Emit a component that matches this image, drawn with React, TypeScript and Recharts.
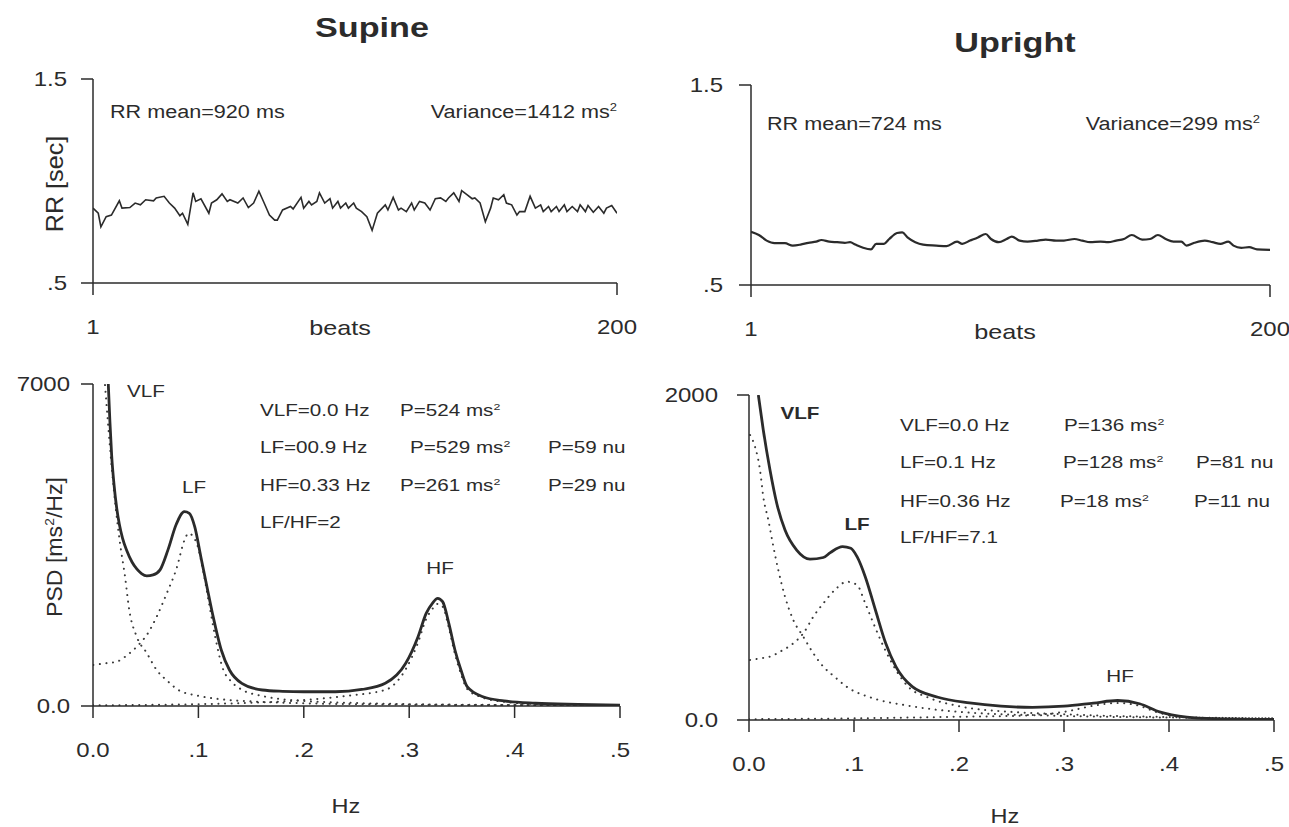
import React from 'react';
import { LineChart, Line, XAxis, YAxis } from 'recharts';

type Pt = [number, number];

// ---- tick values ----
const beatTicks = [1, 200];
const rrTicks = [0.5, 1.5];
const hzTicks = [0, 0.1, 0.2, 0.3, 0.4, 0.5];
const supinePsdTicks = [0, 7000];
const uprightPsdTicks = [0, 2000];

// ---- RR tachograms: [beat, RR sec] ----
const supineRR: Pt[] = [
  [1, 0.867], [3, 0.842], [4, 0.775], [6, 0.825], [8, 0.833], [11, 0.903], [12, 0.867], [15, 0.87], [17, 0.892], [19, 0.883],
  [21, 0.908], [24, 0.903], [25, 0.917], [28, 0.925], [30, 0.892], [32, 0.867], [34, 0.83], [35, 0.842], [37, 0.787], [39, 0.942],
  [40, 0.9], [42, 0.913], [45, 0.842], [46, 0.892], [48, 0.908], [50, 0.937], [52, 0.9], [53, 0.908], [56, 0.892], [58, 0.917],
  [60, 0.87], [62, 0.892], [64, 0.95], [66, 0.892], [68, 0.833], [70, 0.808], [71, 0.808], [73, 0.858], [76, 0.875], [77, 0.863],
  [80, 0.92], [81, 0.867], [83, 0.9], [84, 0.883], [86, 0.9], [87, 0.942], [89, 0.892], [91, 0.913], [92, 0.867], [94, 0.9],
  [95, 0.867], [97, 0.892], [98, 0.867], [100, 0.892], [101, 0.867], [103, 0.85], [105, 0.825], [107, 0.758], [109, 0.842], [112, 0.883],
  [113, 0.858], [115, 0.92], [117, 0.858], [118, 0.867], [120, 0.85], [122, 0.892], [123, 0.858], [125, 0.9], [127, 0.892], [129, 0.858],
  [131, 0.913], [133, 0.917], [135, 0.9], [136, 0.917], [138, 0.942], [140, 0.9], [141, 0.953], [143, 0.933], [145, 0.913], [146, 0.917],
  [148, 0.892], [150, 0.8], [152, 0.867], [153, 0.917], [155, 0.908], [157, 0.933], [158, 0.892], [160, 0.883], [162, 0.833], [163, 0.85],
  [165, 0.85], [167, 0.925], [169, 0.867], [171, 0.883], [172, 0.85], [174, 0.875], [175, 0.85], [177, 0.875], [178, 0.85], [180, 0.883],
  [181, 0.85], [183, 0.875], [185, 0.85], [186, 0.883], [188, 0.85], [189, 0.88], [191, 0.847], [193, 0.875], [195, 0.842], [196, 0.867],
  [198, 0.88], [200, 0.842],
];

const uprightRR: Pt[] = [
  [1, 0.766], [4, 0.75], [7, 0.722], [10, 0.709], [14, 0.709], [17, 0.697], [20, 0.702], [23, 0.711], [26, 0.717], [28, 0.725],
  [31, 0.717], [34, 0.714], [37, 0.711], [39, 0.714], [41, 0.702], [44, 0.686], [47, 0.678], [49, 0.706], [52, 0.706], [54, 0.73],
  [57, 0.76], [59, 0.763], [61, 0.738], [64, 0.714], [67, 0.702], [72, 0.697], [76, 0.694], [80, 0.717], [82, 0.706], [85, 0.722],
  [88, 0.738], [91, 0.755], [93, 0.73], [96, 0.714], [99, 0.73], [101, 0.742], [104, 0.722], [107, 0.717], [111, 0.722], [114, 0.727],
  [118, 0.722], [121, 0.722], [125, 0.73], [128, 0.722], [131, 0.714], [135, 0.717], [138, 0.714], [141, 0.722], [144, 0.73], [147, 0.75],
  [151, 0.727], [154, 0.73], [157, 0.75], [160, 0.73], [163, 0.717], [166, 0.717], [168, 0.697], [171, 0.711], [175, 0.722], [178, 0.714],
  [181, 0.706], [184, 0.717], [186, 0.697], [189, 0.686], [192, 0.689], [195, 0.678], [200, 0.676],
];

// ---- Supine spectrum: [Hz, ms^2/Hz] ----
const supineTotal: Pt[] = [
  [0.0145, 7000], [0.016, 6200], [0.0177, 5450], [0.02, 4800], [0.0225, 4300], [0.025, 3950], [0.028, 3650], [0.032, 3380],
  [0.037, 3130], [0.0415, 2980], [0.046, 2880], [0.051, 2830], [0.057, 2850], [0.0636, 2960], [0.0712, 3400], [0.079, 3950],
  [0.0867, 4225], [0.0914, 4189], [0.0965, 3899], [0.1023, 3246], [0.1081, 2594], [0.114, 1942], [0.1217, 1217], [0.1295, 783],
  [0.1412, 493], [0.1606, 348], [0.18, 320], [0.2, 310], [0.23, 310], [0.255, 360], [0.2773, 493], [0.2967, 928], [0.3084, 1507],
  [0.3161, 2015], [0.322, 2233], [0.327, 2341], [0.3317, 2268], [0.3376, 1797], [0.3434, 1217], [0.3491, 783], [0.355, 420],
  [0.37, 200], [0.39, 110], [0.42, 60], [0.46, 35], [0.5, 20],
];
const supineVLF: Pt[] = [
  [0.0114, 6978], [0.0145, 6072], [0.0177, 5202], [0.0218, 4261], [0.0256, 3544], [0.0304, 2811], [0.0344, 2087], [0.0415, 1507],
  [0.051, 1152], [0.0604, 783], [0.0714, 528], [0.081, 348], [0.1, 220], [0.12, 150], [0.15, 100], [0.2, 60], [0.3, 30], [0.4, 20], [0.5, 15],
];
const supineLF: Pt[] = [
  [0.0003, 891], [0.0114, 928], [0.0225, 963], [0.0326, 1109], [0.0446, 1363], [0.051, 1543], [0.0604, 1941], [0.07, 2450],
  [0.0794, 3000], [0.0867, 3600], [0.0906, 3754], [0.0984, 3536], [0.1043, 2957], [0.1101, 2232], [0.1159, 1507], [0.1237, 783],
  [0.13, 560], [0.14, 370], [0.16, 220], [0.2, 110], [0.25, 65], [0.3, 40], [0.4, 22], [0.5, 15],
];
const supineHF: Pt[] = [
  [0, 15], [0.1, 40], [0.15, 70], [0.2, 130], [0.24, 220], [0.2773, 350], [0.2967, 800], [0.3084, 1380], [0.3161, 1890], [0.322, 2110],
  [0.327, 2220], [0.3317, 2160], [0.3376, 1700], [0.3434, 1130], [0.3491, 700], [0.355, 370], [0.37, 180], [0.39, 90], [0.42, 45],
  [0.46, 25], [0.5, 15],
];

// ---- Upright spectrum: [Hz, ms^2/Hz] ----
const uprightTotal: Pt[] = [
  [0.0089, 2000], [0.0136, 1785], [0.02, 1538], [0.0264, 1334], [0.0343, 1169], [0.0454, 1046], [0.0581, 990], [0.0708, 1000],
  [0.0774, 1030], [0.0891, 1067], [0.097, 1057], [0.1029, 1005], [0.1107, 882], [0.1204, 677], [0.1302, 472], [0.1399, 328],
  [0.1555, 205], [0.18, 140], [0.21, 105], [0.24, 85], [0.27, 78], [0.3, 85], [0.328, 104], [0.351, 120], [0.372, 100], [0.391, 50],
  [0.417, 18], [0.445, 8], [0.5, 3],
];
const uprightVLF: Pt[] = [
  [0.001, 1754], [0.0057, 1682], [0.0105, 1538], [0.0136, 1374], [0.0184, 1231], [0.0232, 1067], [0.0279, 923], [0.0343, 759],
  [0.0422, 615], [0.0517, 513], [0.0613, 410], [0.0708, 328], [0.0813, 267], [0.093, 205], [0.12, 130], [0.15, 90], [0.2, 50],
  [0.3, 25], [0.4, 15], [0.5, 10],
];
const uprightLF: Pt[] = [
  [0.001, 369], [0.0105, 379], [0.02, 390], [0.0295, 420], [0.0422, 472], [0.0517, 533], [0.0613, 636], [0.0708, 718], [0.0833, 810],
  [0.093, 851], [0.1029, 831], [0.1107, 718], [0.1185, 595], [0.1282, 451], [0.1399, 308], [0.1516, 205], [0.17, 140], [0.2, 85],
  [0.25, 50], [0.3, 35], [0.4, 18], [0.5, 10],
];
const uprightHF: Pt[] = [
  [0, 5], [0.1, 10], [0.2, 20], [0.25, 25], [0.3, 50], [0.33, 90], [0.35, 105], [0.37, 90], [0.39, 45], [0.42, 15], [0.45, 6], [0.5, 2],
];

const INK = '#2b2b2b';
const FONT = '"Liberation Sans", Arial, Helvetica, sans-serif';
const SX = 1.2;

const toRows = (pts: Pt[]) => pts.map(([x, y]) => ({ x, y }));

const fmtRR = (v: number) => (v === 0.5 ? '.5' : String(v));
const fmtBeat = (v: number) => String(v);
const fmtHz = (v: number) => (v === 0 ? '0.0' : '.' + Math.round(v * 10));
const fmtPsd = (v: number) => (v === 0 ? '0.0' : String(v));

function XTick(props: any) {
  const { x, y, payload, fmt } = props;
  return (
    <g transform={`translate(${x},${y + 32})`}>
      <text transform={`scale(${SX},1)`} textAnchor="middle" dominantBaseline="central" fontSize={20} fill={INK} fontFamily={FONT}>
        {fmt(payload.value)}
      </text>
    </g>
  );
}

function YTick(props: any) {
  const { x, y, payload, fmt } = props;
  return (
    <g transform={`translate(${x},${y})`}>
      <text transform={`scale(${SX},1)`} textAnchor="end" dominantBaseline="central" fontSize={20} fill={INK} fontFamily={FONT}>
        {fmt(payload.value)}
      </text>
    </g>
  );
}

type PanelProps = {
  left: number; top: number; right: number; bottom: number;
  xDomain: [number, number]; xTicks: number[]; xFmt: (v: number) => string;
  yDomain: [number, number]; yTicks: number[]; yFmt: (v: number) => string;
  yTickMargin: number;
  children: React.ReactNode;
};

function Panel(p: PanelProps) {
  const YW = 93;
  const XH = 60;
  const RM = 40;
  const axisStyle = { stroke: INK, strokeWidth: 1.5 };
  return (
    <div style={{ position: 'absolute', left: 0, top: 0 }}>
      <LineChart
        width={p.right + RM}
        height={p.bottom + XH + 2}
        margin={{ top: p.top, right: RM, left: p.left - YW, bottom: 2 }}
      >
        <XAxis
          dataKey="x" type="number" domain={p.xDomain} ticks={p.xTicks} allowDataOverflow interval={0}
          height={XH} tickSize={12} tickMargin={0} axisLine={axisStyle} tickLine={axisStyle}
          tick={(tp: any) => <XTick {...tp} fmt={p.xFmt} />}
        />
        <YAxis
          type="number" domain={p.yDomain} ticks={p.yTicks} allowDataOverflow interval={0}
          width={YW} tickSize={12} tickMargin={p.yTickMargin} axisLine={axisStyle} tickLine={axisStyle}
          tick={(tp: any) => <YTick {...tp} fmt={p.yFmt} />}
        />
        {p.children}
      </LineChart>
    </div>
  );
}

function T(props: { x: number; y: number; size?: number; anchor?: 'start' | 'middle' | 'end'; bold?: boolean; sx?: number; children: React.ReactNode }) {
  const { x, y, size = 17, anchor = 'start', bold = false, sx = SX, children } = props;
  const tx = anchor === 'start' ? '0%' : anchor === 'middle' ? '-50%' : '-100%';
  const origin = anchor === 'start' ? 'left' : anchor === 'middle' ? 'center' : 'right';
  return (
    <div
      style={{
        position: 'absolute', left: x, top: y, transform: `translate(${tx}, -50%) scaleX(${sx})`,
        transformOrigin: `${origin} center`, fontSize: size, fontWeight: bold ? 700 : 400, whiteSpace: 'nowrap',
        lineHeight: 1, color: INK, fontFamily: FONT,
      }}
    >
      {children}
    </div>
  );
}

function VT(props: { x: number; y: number; size?: number; children: React.ReactNode }) {
  return (
    <div
      style={{
        position: 'absolute', left: props.x, top: props.y, transform: 'translate(-50%, -50%) rotate(-90deg) scaleX(1.05)',
        transformOrigin: 'center center', fontSize: props.size ?? 22, whiteSpace: 'nowrap', lineHeight: 1, color: INK, fontFamily: FONT,
      }}
    >
      {props.children}
    </div>
  );
}

const Sup = ({ children }: { children: React.ReactNode }) => (
  <span style={{ fontSize: '0.6em', position: 'relative', top: '-0.62em' }}>{children}</span>
);

const solid = (pts: Pt[], w: number, type: 'linear' | 'monotone' = 'monotone') => (
  <Line data={toRows(pts)} dataKey="y" type={type} stroke={INK} strokeWidth={w} dot={false} activeDot={false} isAnimationActive={false} />
);
const dotted = (pts: Pt[]) => (
  <Line
    data={toRows(pts)} dataKey="y" type="monotone" stroke="#3a3a3a" strokeWidth={2} strokeDasharray="0.1 6.5" strokeLinecap="round"
    dot={false} activeDot={false} isAnimationActive={false}
  />
);

export default function App() {
  return (
    <div style={{ position: 'absolute', left: 0, top: 0, width: 1289, height: 827, background: '#ffffff', overflow: 'hidden', fontFamily: FONT }}>
      {/* Supine RR */}
      <Panel left={93} top={79} right={617} bottom={283} xDomain={[1, 200]} xTicks={beatTicks} xFmt={fmtBeat}
        yDomain={[0.5, 1.5]} yTicks={rrTicks} yFmt={fmtRR} yTickMargin={14}>
        {solid(supineRR, 1.6, 'linear')}
      </Panel>
      {/* Upright RR */}
      <Panel left={751} top={85} right={1270} bottom={285} xDomain={[1, 200]} xTicks={beatTicks} xFmt={fmtBeat}
        yDomain={[0.5, 1.5]} yTicks={rrTicks} yFmt={fmtRR} yTickMargin={16}>
        {solid(uprightRR, 2.2, 'monotone')}
      </Panel>
      {/* Supine PSD */}
      <Panel left={93} top={384} right={620} bottom={706} xDomain={[0, 0.5]} xTicks={hzTicks} xFmt={fmtHz}
        yDomain={[0, 7000]} yTicks={supinePsdTicks} yFmt={fmtPsd} yTickMargin={11}>
        {dotted(supineVLF)}
        {dotted(supineLF)}
        {dotted(supineHF)}
        {solid(supineTotal, 2.8)}
      </Panel>
      {/* Upright PSD */}
      <Panel left={749} top={395} right={1274} bottom={720} xDomain={[0, 0.5]} xTicks={hzTicks} xFmt={fmtHz}
        yDomain={[0, 2000]} yTicks={uprightPsdTicks} yFmt={fmtPsd} yTickMargin={19}>
        {dotted(uprightVLF)}
        {dotted(uprightLF)}
        {dotted(uprightHF)}
        {solid(uprightTotal, 2.8)}
      </Panel>

      {/* titles */}
      <T x={372} y={28} size={28} bold anchor="middle" sx={1.22}>Supine</T>
      <T x={1015} y={43} size={28} bold anchor="middle" sx={1.22}>Upright</T>

      {/* RR annotations */}
      <T x={110} y={112} size={18}>RR mean=920 ms</T>
      <T x={617} y={112} size={18} anchor="end">Variance=1412 ms<Sup>2</Sup></T>
      <T x={767} y={124} size={18}>RR mean=724 ms</T>
      <T x={1260} y={124} size={18} anchor="end">Variance=299 ms<Sup>2</Sup></T>

      {/* axis titles */}
      <VT x={55} y={184} size={24}>RR [sec]</VT>
      <VT x={55} y={547}>PSD [ms<Sup>2</Sup>/Hz]</VT>
      <T x={340} y={327} size={21} anchor="middle">beats</T>
      <T x={1005} y={331} size={21} anchor="middle">beats</T>
      <T x={346} y={805} size={21} anchor="middle" sx={1.12}>Hz</T>
      <T x={1005} y={815} size={21} anchor="middle" sx={1.12}>Hz</T>

      {/* supine peak labels */}
      <T x={146} y={391} size={16.5} anchor="middle" sx={1.25}>VLF</T>
      <T x={194} y={487} size={16.5} anchor="middle" sx={1.25}>LF</T>
      <T x={440} y={568} size={16.5} anchor="middle" sx={1.25}>HF</T>
      {/* supine table */}
      <T x={260} y={410} size={16.5} sx={1.25}>VLF=0.0 Hz</T>
      <T x={400} y={410} size={16.5} sx={1.25}>P=524 ms<Sup>2</Sup></T>
      <T x={260} y={447} size={16.5} sx={1.25}>LF=00.9 Hz</T>
      <T x={410} y={447} size={16.5} sx={1.25}>P=529 ms<Sup>2</Sup></T>
      <T x={548} y={447} size={16.5} sx={1.25}>P=59 nu</T>
      <T x={260} y={485} size={16.5} sx={1.25}>HF=0.33 Hz</T>
      <T x={400} y={485} size={16.5} sx={1.25}>P=261 ms<Sup>2</Sup></T>
      <T x={548} y={485} size={16.5} sx={1.25}>P=29 nu</T>
      <T x={260} y={522} size={16.5} sx={1.25}>LF/HF=2</T>

      {/* upright peak labels */}
      <T x={800} y={413} size={16.5} anchor="middle" sx={1.25} bold>VLF</T>
      <T x={857} y={524} size={16.5} anchor="middle" sx={1.25} bold>LF</T>
      <T x={1120} y={676} size={16.5} anchor="middle" sx={1.25}>HF</T>
      {/* upright table */}
      <T x={900} y={425} size={16.5} sx={1.25}>VLF=0.0 Hz</T>
      <T x={1064} y={425} size={16.5} sx={1.25}>P=136 ms<Sup>2</Sup></T>
      <T x={900} y={462} size={16.5} sx={1.25}>LF=0.1 Hz</T>
      <T x={1063} y={462} size={16.5} sx={1.25}>P=128 ms<Sup>2</Sup></T>
      <T x={1196} y={462} size={16.5} sx={1.25}>P=81 nu</T>
      <T x={900} y={501} size={16.5} sx={1.25}>HF=0.36 Hz</T>
      <T x={1060} y={501} size={16.5} sx={1.25}>P=18 ms<Sup>2</Sup></T>
      <T x={1194} y={501} size={16.5} sx={1.25}>P=11 nu</T>
      <T x={900} y={537} size={16.5} sx={1.25}>LF/HF=7.1</T>
    </div>
  );
}
